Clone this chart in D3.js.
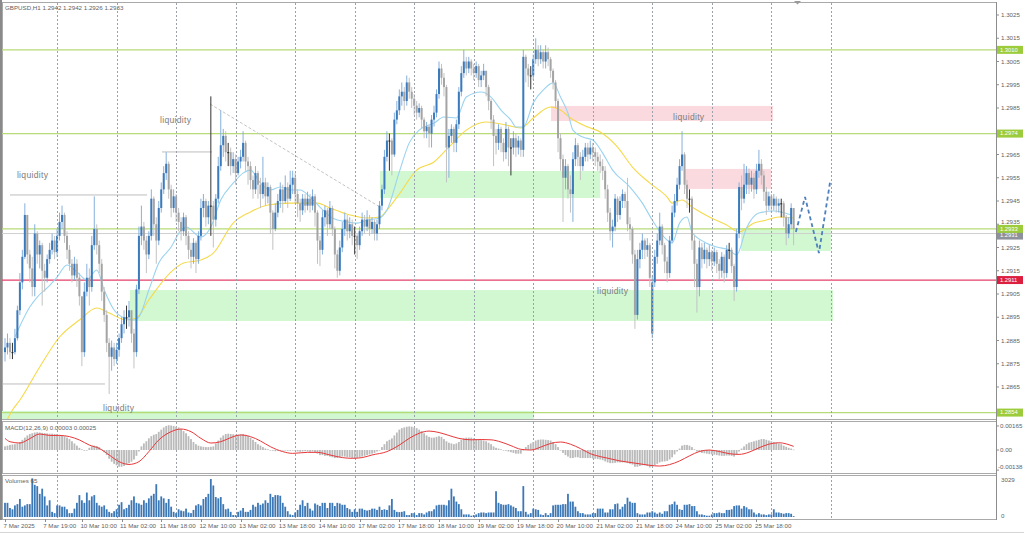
<!DOCTYPE html>
<html><head><meta charset="utf-8">
<script src="https://cdn.jsdelivr.net/npm/d3@7"></script>
<style>
html,body{margin:0;padding:0;background:#fff;}
svg{display:block;font-family:"Liberation Sans",Arial,sans-serif;}
</style></head><body>
<svg id="chart" width="1024" height="534"></svg>
<script>
// ---------------- DATA ----------------
const header = "GBPUSD,H1  1.2942 1.2942 1.2926 1.2933";
const BASE = 1.28, PIP = 0.0001;          // prices below are pips above 1.2800
const firstOpen = 80;
const openGaps = [[261, 88]];             // weekend gap open (bar, pips)
const closes = [
82,84,80,80,86,98,110,121,139,122,
116,108,131,122,126,115,112,120,124,128,
123,130,136,139,130,124,118,113,118,112,
104,80,106,112,108,126,133,126,118,106,
96,84,78,82,77,81,86,92,95,95,
98,88,80,107,130,134,128,122,130,146,
135,128,142,150,157,161,150,142,147,140,
136,132,138,130,124,121,127,120,130,142,
145,138,143,143,137,146,160,169,173,166,
166,160,163,157,162,164,170,162,160,154,
150,157,152,148,153,147,151,140,133,140,
145,150,145,151,146,152,155,148,144,141,
146,143,146,143,147,140,128,124,138,141,
135,142,133,122,115,125,133,137,132,135,
130,130,126,132,137,134,137,133,136,131,
135,143,150,164,171,171,165,180,184,190,
192,188,196,192,189,186,183,185,180,175,
177,174,180,183,191,202,198,194,168,173,
176,170,178,192,200,205,202,205,202,200,
203,197,199,201,194,188,180,173,170,176,
170,166,176,168,168,172,168,171,167,207,
202,199,199,206,210,206,209,205,209,206,
201,196,188,172,163,155,160,150,148,163,
169,164,160,164,168,165,168,166,164,162,
160,158,150,140,132,134,146,139,145,148,
145,135,133,122,96,120,124,128,124,126,
112,110,121,128,134,126,119,114,128,140,
145,152,160,165,152,146,146,128,118,108,
125,120,124,120,123,119,123,118,115,121,
114,124,124,117,108,131,151,146,152,157,
152,155,150,158,161,156,149,143,147,143,
146,143,144,144,138,131,135,142,133];
const highs = [
86,88,86,84,90,100,114,124,144,139,
124,121,135,132,128,127,118,122,127,131,
130,133,140,143,140,132,126,120,121,120,
114,104,110,118,116,130,147,135,128,120,
108,98,86,85,84,84,88,95,98,100,
102,97,90,109,134,143,136,130,132,150,
147,138,145,153,160,166,162,152,150,148,
142,138,140,139,132,127,129,128,132,146,
148,146,145,190,145,148,164,184,176,175,
170,168,166,165,164,167,175,171,164,162,
156,160,158,155,164,155,153,152,141,144,
148,153,152,156,153,158,158,157,150,146,
148,148,149,148,150,148,141,130,141,143,
142,145,143,134,124,128,136,140,139,138,
137,134,131,134,140,139,141,139,138,137,
137,145,152,167,175,174,172,183,188,193,
196,194,199,198,194,191,188,187,186,181,
179,178,182,186,193,205,204,200,195,176,
178,177,180,194,203,210,207,207,206,204,
205,204,201,204,201,195,189,182,176,178,
177,172,179,177,172,175,174,173,172,210,
208,204,203,208,215,212,212,210,212,211,
207,202,197,189,174,165,163,161,156,166,
172,170,166,167,170,170,171,170,168,166,
165,163,160,152,142,137,148,147,147,150,
149,155,138,134,124,124,127,131,129,129,
127,113,124,131,140,135,127,121,130,143,
148,155,163,175,166,154,150,147,130,120,
128,127,127,125,126,124,125,124,120,123,
122,126,127,125,118,133,153,156,161,160,
159,158,157,161,167,163,158,151,149,148,
148,147,146,146,145,139,138,144,142];
const lows = [
76,79,77,77,79,85,96,107,120,118,
110,104,104,118,116,100,106,110,118,122,
120,121,128,133,127,120,115,110,111,108,
100,74,78,104,100,106,124,122,114,102,
93,80,62,72,74,75,78,84,88,90,
91,84,73,78,105,126,124,114,120,128,
130,118,126,140,148,154,146,138,140,136,
132,128,130,126,120,116,118,114,118,128,
138,134,135,130,125,134,144,158,164,162,
160,156,157,152,156,159,162,158,152,150,
146,148,146,142,146,143,144,131,124,132,
138,142,140,144,142,145,148,144,138,136,
139,140,141,140,141,134,118,117,122,134,
130,133,130,116,112,113,123,130,128,129,
126,122,120,124,130,131,132,130,131,128,
128,133,141,148,162,158,156,164,178,182,
186,184,186,189,185,182,180,181,176,172,
172,168,168,177,181,189,195,190,153,155,
170,166,166,176,190,198,199,200,199,197,
198,194,194,197,190,184,176,160,165,167,
166,162,163,160,156,165,164,165,164,164,
196,194,193,197,204,203,204,202,202,203,
198,193,185,166,158,136,150,146,140,136,
160,160,154,158,162,162,163,162,160,158,
157,154,146,136,128,125,132,136,137,142,
142,132,128,118,90,94,116,120,120,121,
108,86,108,118,126,122,114,110,112,127,
138,143,150,158,148,142,140,124,108,97,
104,116,118,116,117,115,117,114,111,112,
110,112,120,114,102,106,129,141,144,148,
148,149,146,148,155,152,145,139,141,140,
141,140,140,138,134,126,129,133,126];
const volumes = [
1100,1100,700,600,900,1000,1400,800,900,1000,
1000,3000,2500,2400,1800,2200,1600,900,1300,400,
300,900,900,800,800,600,300,300,650,1100,
1700,1300,1100,1900,1300,1600,1700,1100,900,800,
900,600,400,300,450,600,950,1150,600,700,
950,1300,1600,1100,1050,950,1300,1100,1450,1650,
1800,2550,1300,1600,1450,1100,1400,800,400,300,
600,500,450,650,350,300,550,900,1000,900,
1400,1550,1800,2950,2450,1550,1450,1550,1000,600,
650,400,150,150,400,500,700,400,400,550,
950,800,1100,950,1050,1300,1100,1800,1550,1700,
1700,1650,1100,800,450,200,150,350,550,950,
1300,850,1100,650,500,1050,950,850,1100,1100,
700,1100,1100,850,1100,1050,950,950,700,600,
400,600,400,650,650,550,500,550,650,650,
550,800,550,600,550,900,1400,550,400,380,
400,450,150,150,300,300,150,300,300,200,
350,450,450,600,900,950,950,950,900,1300,
2200,1600,1200,1000,600,200,200,200,100,150,
200,300,350,350,300,350,350,350,2000,1100,
1000,950,950,1000,900,800,700,450,450,2400,
400,200,300,650,600,550,200,150,300,150,
300,900,950,950,950,1000,1000,1800,1200,1200,
800,450,300,300,200,200,200,300,300,650,
650,650,350,350,600,600,1000,1050,600,800,
1000,1500,1200,1100,1100,300,200,200,200,350,
350,450,350,250,350,250,450,450,950,1000,
1200,950,600,550,950,950,1000,850,850,450,
200,200,150,100,100,200,300,300,350,300,
300,550,550,600,850,900,900,650,850,750,
600,600,350,200,300,200,200,150,200,200,
600,350,350,300,250,300,300,250,65];
// MACD main (histogram), units of 0.00001
const macdMain = [
25,30,35,38,40,45,55, 70,85,100,110,115, 120,122,120,118,
116,114,112,112,110,110, 105,100,95,85,75, 60,45,30,15, 5,-5,0,
15,25,30,28,20, 5,-15,-35, -60,-80,-95,-105, -115,-115,-110,
-100,-90,-80,-65, -40,-10, 25,45,60, 80,95,105,110,125,
140,155,165,170,168, 165,160,155,145, 130,115,95,75, 55,40,30,25,
22,20,20,22,25, 45,65,85,100, 110,112,110,108,105, 105,108,110,105,95,
85,70,55,40,30,20, 10,5,0,-5,-8,-5, -3,0,-2,-5,-5,-3,-5,
-10,-12,-10,-8,-10,-12,-10,-15, -25,-35,-35,-40,-40,-45,-50,
-55,-55,-50,-45,-45,-50,-50,-55, -55,-55,-50,-45,-40,-35,
-30,-25,-20,-10,0, 20,40,60,70, 80,100,120,140,
150,155,160,162,160,155,150, 140,130,115,100,90,85, 85,90,95,90,75,60,
50,45,40,45,55,70, 80,85,85,85,80,75, 70,68,65,60,50,40,
25,15,10,5,0,-5,-10, -15,-20,-25,-25,-25, 0,20,35,45,55,65,
70,72,72,70,68,65, 55,40,20,0,-20,-35, -45,-55,-55,-50,-50,-55,
-55,-55,-55,-55,-58,-60,-62,-65, -70,-78,-85,-90,-90,-88,-85,
-85,-85,-85,-90,-95,-100,-115, -115,-110,-105,-105,-110,-120,-115,
-105,-95,-85,-80,-78,-75,-65, -50,-30,-10,10,30,35, 35,30,20,5,-10,-15,
-20,-22,-25,-28,-30,-32,-35, -38,-40,-40,-38,-38,-40,-45,
-30,-10,10,25,40,50, 55,60,65,70,75,75, 70,65,60,55,50,45, 40,30,22,15,10,3];
// MACD signal read at points [bar, value 0.00001]
const macdSignal = [[0,80],[2,57],[6,48],[10,78],[14,110],[18,100],[22,100],[26,92],[30,69],[34,34],[38,11],[42,-34],[46,-80],[50,-99],[54,-80],[58,-11],[62,69],[67,126],[71,144],[75,126],[79,80],[83,48],[87,57],[91,85],[95,103],[99,92],[103,62],[107,23],[112,-11],[116,-23],[122,-16],[126,-16],[131,-34],[136,-52],[140,-57],[144,-52],[148,-34],[154,-11],[159,34],[163,80],[167,115],[171,130],[175,120],[179,100],[183,80],[188,70],[192,72],[196,70],[200,55],[204,30],[208,5],[212,0],[216,20],[220,45],[224,55],[228,40],[232,10],[236,-25],[240,-45],[244,-60],[248,-75],[252,-85],[256,-95],[260,-105],[264,-110],[268,-100],[272,-75],[276,-40],[280,-10],[284,0],[288,-10],[292,-25],[296,-30],[300,-15],[304,15],[308,40],[312,50],[318,25]];
// moving averages read at points [bar, pips]
const maFast = [[4,86.5],[10,99.4],[13,103.7],[17,107.6],[21,112.3],[25,117.5],[29,114.5],[33,111],[37,115.3],[40,106.7],[44,98.1],[48,94.7],[52,93.8],[54,95.1],[58,106.7],[62,118.3],[67,125.2],[71,132.5],[73,133.8],[79,129.5],[83,133.8],[87,145.4],[92,152.7],[96,157],[99,158.3],[103,152.7],[107,149.7],[111,151],[115,149.7],[119,149.7],[123,146.7],[127,142.4],[132,137.7],[138,136],[142,135.5],[146,136.8],[151,137.7],[154,141.1],[159,157.5],[163,170],[167,175.5],[173,178.5],[177,181.1],[182,180.7],[186,189.7],[192,191.9],[196,189.7],[200,184.1],[204,179.8],[206,176.8],[209,176.8],[213,187.2],[217,192.7],[221,195.8],[224,189.7],[227,182.8],[229,175.5],[233,172.5],[237,171.2],[241,165.6],[245,158.3],[252,151],[257,144.1],[261,136.8],[267,128.2],[269,126.9],[272,135.5],[275,138.1],[277,131.7],[282,127.4],[287,125.2],[292,123.9],[295,121.8],[299,133.4],[304,139.8],[310,140.7],[317,139]];
const maSlow = [[0,49],[3,55.1],[6,59.4],[14,73.6],[22,86.5],[30,93.8],[37,99],[42,96.8],[49,93.8],[53,94.7],[58,102.4],[67,114.5],[72,118.3],[79,119.6],[84,122.6],[92,135.5],[99,140.3],[106,143.3],[115,144.1],[126,144.1],[131,142],[139,139],[146,137.7],[151,138.1],[155,142.4],[159,148],[166,158.3],[173,161.8],[179,168.2],[186,175.5],[194,179],[202,177.7],[208,176.4],[213,180.7],[220,185.4],[224,184.1],[228,180.7],[235,176.8],[240,174.7],[247,168.2],[253,159.6],[260,152.7],[267,146.7],[269,144.1],[273,145.4],[277,142.4],[284,138.1],[291,134.7],[296,131.7],[302,135.5],[307,136.8],[312,138.1],[318,137.7]];
const timeLabels = [[0,"7 Mar 2025"],[16,"7 Mar 19:00"],[31,"10 Mar 10:00"],[47,"11 Mar 02:00"],[63,"11 Mar 18:00"],[79,"12 Mar 10:00"],[95,"13 Mar 02:00"],[111,"13 Mar 18:00"],[127,"14 Mar 10:00"],[143,"17 Mar 02:00"],[159,"17 Mar 18:00"],[175,"18 Mar 10:00"],[191,"19 Mar 02:00"],[207,"19 Mar 18:00"],[223,"20 Mar 10:00"],[239,"21 Mar 02:00"],[255,"21 Mar 18:00"],[271,"24 Mar 10:00"],[287,"25 Mar 02:00"],[303,"25 Mar 18:00"]];
const dayStarts = [21,45,69,93,117,141,165,189,213,237,261,285,309,333];
const priceTicks = ["1.3025","1.3015","1.3005","1.2995","1.2985","1.2965","1.2955","1.2945","1.2935","1.2925","1.2915","1.2905","1.2895","1.2885","1.2875","1.2865"];
const levels = [
  {price:1.3010, label:"1.3010", kind:"green"},
  {price:1.2974, label:"1.2974", kind:"green"},
  {price:1.2931, label:"1.2931", kind:"bid"},
  {price:1.2933, label:"1.2933", kind:"green"},
  {price:1.2911, label:"1.2911", kind:"red"},
  {price:1.2854, label:"1.2854", kind:"green"}];
const zones = [
  {from:50.4, to:333.9, top:1.29067, bottom:1.28934, kind:"green"},
  {from:151.2, to:240, top:1.29579, bottom:1.29463, kind:"green"},
  {from:296.8, to:333, top:1.29334, bottom:1.29235, kind:"green"},
  {from:-3, to:213.3, top:1.28547, bottom:1.28510, kind:"green"},
  {from:220.2, to:309.7, top:1.29859, bottom:1.29794, kind:"pink"},
  {from:274.2, to:308.9, top:1.29588, bottom:1.29502, kind:"pink"}];
const liquidityMarks = [[63.3,83.5,1.29661],[2,57.3,1.29476],[-1,40.3,1.28663]];
const trendLine = [[82.7,1.29867],[151.2,1.29424]];
const notes = [[62.5,1.29798,"liquidity"],[4.8,1.29564,"liquidity"],[39.5,1.28560,"liquidity"],[269.4,1.29813,"liquidity"],[238.7,1.29063,"liquidity"]];
const forecast = [[318.9,1.29317],[322.6,1.29467],[328.2,1.29226],[332.7,1.29532]];
const macdTicks = [[0.00165,"0.00165"],[0,"0.00"],[-0.00138,"-0.00138"]];
const volTicks = [[3029,"3029"],[0,"0"]];

// ---------------- DRAW ----------------
const svg = d3.select("#chart");
const LEFT = 2, RIGHT = 996;
const MAIN = [2, 419], MACD = [421, 473], VOL = [475, 519];
const FONT = 6.2, TXT = "#5f5f5f";

const x = d3.scaleLinear().domain([0, 318]).range([5, 793.64]);
const y = d3.scaleLinear().domain([1.285167, 1.303059]).range([418, 2]);
const ym = d3.scaleLinear().domain([-0.00144, 0.00206]).range([471, 420]);
const yv = d3.scaleLinear().domain([0, 3029]).range([517, 478]);
const P = v => BASE + v * PIP;

const gapMap = new Map(openGaps);
const bars = closes.map((c, i) => {
  const o = gapMap.has(i) ? gapMap.get(i) : (i === 0 ? firstOpen : closes[i - 1]);
  return {i, o: P(o), c: P(c), h: P(Math.max(highs[i], o, c)), l: P(Math.min(lows[i], o, c))};
});

svg.append("rect").attr("width", 1024).attr("height", 534).attr("fill", "#fff");

const defs = svg.append("defs");
[["clipMain", MAIN], ["clipMacd", MACD], ["clipVol", VOL]].forEach(([id, r]) => {
  defs.append("clipPath").attr("id", id).append("rect")
    .attr("x", LEFT).attr("y", r[0]).attr("width", RIGHT - LEFT).attr("height", r[1] - r[0]);
});

// panel frames
[MAIN, MACD, VOL].forEach(r => {
  svg.append("rect").attr("x", LEFT + 0.5).attr("y", r[0] + 0.5).attr("width", RIGHT - LEFT)
    .attr("height", r[1] - r[0]).attr("fill", "none").attr("stroke", "#a9a9a9");
});

const gMain = svg.append("g").attr("clip-path", "url(#clipMain)");

// zones
gMain.selectAll("rect.zone").data(zones).join("rect").attr("class", "zone")
  .attr("x", d => x(d.from)).attr("width", d => x(d.to) - x(d.from))
  .attr("y", d => y(d.top)).attr("height", d => y(d.bottom) - y(d.top))
  .attr("fill", d => d.kind === "green" ? "#d2f8d2" : "#fad9df");

// vertical grid (all panels)
const gGrid = svg.append("g");
[MAIN, MACD, VOL].forEach(r => {
  gGrid.selectAll(null).data(dayStarts).join("line")
    .attr("x1", d => Math.round(x(d)) + 0.5).attr("x2", d => Math.round(x(d)) + 0.5)
    .attr("y1", r[0] + 1).attr("y2", r[1])
    .attr("stroke", "#9aa1ab").attr("stroke-width", 1).attr("stroke-dasharray", "2,2");
});

// levels
const levelColor = {green: "#b7db78", red: "#e5406a", bid: "#cfcfcf"};
gMain.selectAll("line.level").data(levels).join("line").attr("class", "level")
  .attr("x1", LEFT).attr("x2", RIGHT)
  .attr("y1", d => y(d.price)).attr("y2", d => y(d.price))
  .attr("stroke", d => levelColor[d.kind]).attr("stroke-width", d => d.kind === "bid" ? 1 : 1.2);

// liquidity gray marks & trendline
gMain.selectAll("line.liq").data(liquidityMarks).join("line").attr("class", "liq")
  .attr("x1", d => x(d[0])).attr("x2", d => x(d[1]))
  .attr("y1", d => y(d[2])).attr("y2", d => y(d[2]))
  .attr("stroke", "#bdbdbd").attr("stroke-width", 1);
gMain.append("line")
  .attr("x1", x(trendLine[0][0])).attr("y1", y(trendLine[0][1]))
  .attr("x2", x(trendLine[1][0])).attr("y2", y(trendLine[1][1]))
  .attr("stroke", "#c4c4c4").attr("stroke-dasharray", "3,2");

// moving averages
const maLine = d3.line().x(d => x(d[0])).y(d => y(P(d[1]))).curve(d3.curveMonotoneX);
gMain.append("path").attr("d", maLine(maSlow)).attr("fill", "none").attr("stroke", "#f6d94a").attr("stroke-width", 1.1);
gMain.append("path").attr("d", maLine(maFast)).attr("fill", "none").attr("stroke", "#9ad3ef").attr("stroke-width", 1.1);

// candles
const kind = d => d.c > d.o ? "up" : (d.c < d.o ? "down" : "doji");
const wickCol = {up: "#86b0dc", down: "#c2c2c2", doji: "#333"};
const bodyCol = {up: "#3b7bbd", down: "#a4a4a4", doji: "#222"};
const gC = gMain.append("g");
gC.selectAll("line").data(bars).join("line")
  .attr("x1", d => x(d.i)).attr("x2", d => x(d.i))
  .attr("y1", d => y(d.h)).attr("y2", d => y(d.l))
  .attr("stroke", d => wickCol[kind(d)]).attr("stroke-width", 1);
gC.selectAll("rect").data(bars).join("rect")
  .attr("x", d => x(d.i) - 1).attr("width", 2)
  .attr("y", d => y(Math.max(d.o, d.c)))
  .attr("height", d => Math.max(1, Math.abs(y(d.o) - y(d.c))))
  .attr("fill", d => bodyCol[kind(d)]);

// notes
gMain.selectAll("text.note").data(notes).join("text").attr("class", "note")
  .attr("x", d => x(d[0])).attr("y", d => y(d[1])).attr("dy", "0.35em")
  .attr("font-size", 8.6).attr("fill", "#7d7d7d").attr("letter-spacing", 0.3).text(d => d[2]);

// forecast zigzag
gMain.append("path")
  .attr("d", d3.line().x(d => x(d[0])).y(d => y(d[1]))(forecast))
  .attr("fill", "none").attr("stroke", "#4d80bf").attr("stroke-width", 1.8).attr("stroke-dasharray", "4,3");

// header
svg.append("text").attr("x", 5).attr("y", 10).attr("font-size", FONT).attr("fill", TXT).text(header);
svg.append("path").attr("d", "M794,1 L801,1 L797.5,4.5 Z").attr("fill", "#9a9a9a");

// price axis
const gAx = svg.append("g");
gAx.append("line").attr("x1", RIGHT + 0.5).attr("x2", RIGHT + 0.5).attr("y1", 2).attr("y2", VOL[1] + 1).attr("stroke", "#8d8d8d");
gAx.selectAll("g.pt").data(priceTicks).join("g").attr("class", "pt").each(function (d) {
  const yy = y(+d);
  d3.select(this).append("line").attr("x1", RIGHT).attr("x2", RIGHT + 3).attr("y1", yy).attr("y2", yy).attr("stroke", "#8d8d8d");
  // keep the 1.2935 label just clear of the 1.2933 marker box
  const ty = d === "1.2935" ? yy - 2.5 : yy;
  d3.select(this).append("text").attr("x", 1001).attr("y", ty).attr("dy", "0.35em")
    .attr("font-size", FONT).attr("fill", TXT).text(d);
});
const boxCol = {green: "#9ccc3c", red: "#dc1f3f", bid: "#8c919b"};
levels.forEach(d => {
  const yy = y(d.price) + (d.kind === "bid" ? 2 : 0);
  gAx.append("rect").attr("x", RIGHT + 1).attr("y", yy - 4).attr("width", 26).attr("height", 8).attr("fill", boxCol[d.kind]);
  gAx.append("text").attr("x", 1000).attr("y", yy).attr("dy", "0.33em").attr("font-size", 5.8).attr("fill", "#fff").text(d.label);
});

// MACD panel
const gM = svg.append("g").attr("clip-path", "url(#clipMacd)");
gM.selectAll("rect").data(macdMain.slice(0, bars.length)).join("rect")
  .attr("x", (d, i) => x(i) - 0.9).attr("width", 1.8)
  .attr("y", d => Math.min(ym(d / 1e5), ym(0)))
  .attr("height", d => Math.max(0.6, Math.abs(ym(d / 1e5) - ym(0))))
  .attr("fill", "#bababa");
gM.append("path")
  .attr("d", d3.line().x(d => x(d[0])).y(d => ym(d[1] / 1e5)).curve(d3.curveMonotoneX)(macdSignal))
  .attr("fill", "none").attr("stroke", "#e8383a").attr("stroke-width", 1);
svg.append("text").attr("x", 5).attr("y", 430).attr("font-size", FONT).attr("fill", TXT).text("MACD(12,26,9) 0.00003 0.00025");
macdTicks.forEach(([v, t]) => {
  const yy = Math.min(Math.max(ym(v), 425), 467);
  svg.append("line").attr("x1", RIGHT).attr("x2", RIGHT + 3).attr("y1", ym(v)).attr("y2", ym(v)).attr("stroke", "#8d8d8d");
  svg.append("text").attr("x", v < 0 ? 998 : 1000).attr("y", yy).attr("dy", "0.35em").attr("font-size", FONT).attr("fill", TXT).text(t);
});

// Volume panel
const gV = svg.append("g").attr("clip-path", "url(#clipVol)");
gV.selectAll("rect").data(volumes.slice(0, bars.length)).join("rect")
  .attr("x", (d, i) => x(i) - 0.9).attr("width", 1.8)
  .attr("y", d => yv(d)).attr("height", d => yv(0) - yv(d))
  .attr("fill", "#3d78b6");
svg.append("text").attr("x", 5).attr("y", 483).attr("font-size", FONT).attr("fill", TXT).text("Volumes 65");
volTicks.forEach(([v, t]) => {
  const yy = Math.min(Math.max(yv(v), 480), 516);
  svg.append("text").attr("x", 1001).attr("y", yy).attr("dy", "0.35em").attr("font-size", FONT).attr("fill", TXT).text(t);
});

// time axis
const gT = svg.append("g");
gT.selectAll("line").data(timeLabels).join("line")
  .attr("x1", d => Math.round(x(d[0])) + 0.5).attr("x2", d => Math.round(x(d[0])) + 0.5)
  .attr("y1", VOL[1]).attr("y2", VOL[1] + 3).attr("stroke", "#8d8d8d");
gT.selectAll("text").data(timeLabels).join("text")
  .attr("x", d => x(d[0]) - 1.5).attr("y", 528).attr("font-size", FONT).attr("fill", TXT).text(d => d[1]);
svg.append("line").attr("x1", 0).attr("x2", 1024).attr("y1", 532.5).attr("y2", 532.5).attr("stroke", "#d6d6d6");
svg.append("line").attr("x1", 1).attr("x2", 1).attr("y1", 0).attr("y2", 520).attr("stroke", "#8a8a8a").attr("stroke-width", 2);
</script>
</body></html>
